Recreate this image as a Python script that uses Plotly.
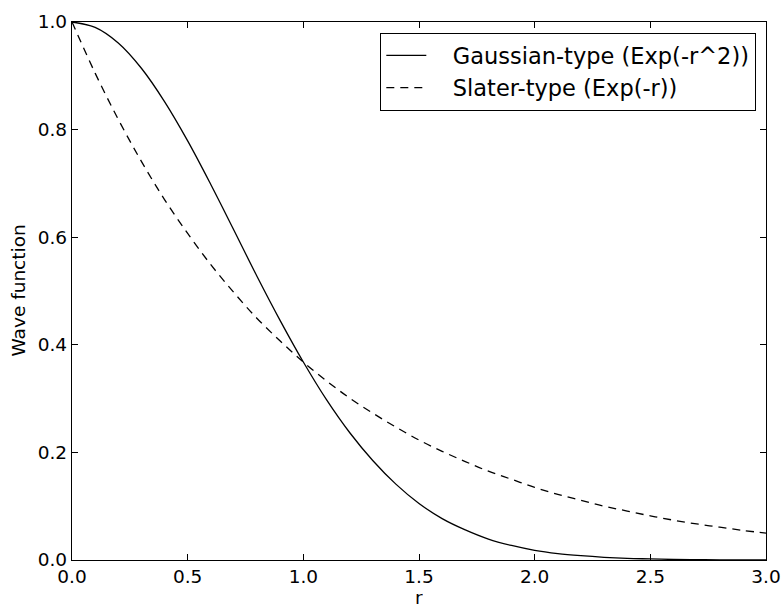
import plotly.graph_objects as go

r_values = [0.0, 0.1, 0.2, 0.3, 0.4, 0.5, 0.6, 0.7, 0.8, 0.9, 1.0,
            1.1, 1.2, 1.3, 1.4, 1.5, 1.6, 1.7, 1.8, 1.9, 2.0,
            2.1, 2.2, 2.3, 2.4, 2.5, 2.6, 2.7, 2.8, 2.9, 3.0]
gaussian = [1.0, 0.990, 0.961, 0.914, 0.852, 0.779, 0.698, 0.613, 0.527, 0.445, 0.368,
            0.298, 0.237, 0.185, 0.141, 0.105, 0.077, 0.056, 0.039, 0.027, 0.018,
            0.012, 0.008, 0.005, 0.003, 0.002, 0.001, 0.0007, 0.0004, 0.0002, 0.0001]
slater = [1.0, 0.905, 0.819, 0.741, 0.670, 0.607, 0.549, 0.497, 0.449, 0.407, 0.368,
          0.333, 0.301, 0.273, 0.247, 0.223, 0.202, 0.183, 0.165, 0.150, 0.135,
          0.122, 0.111, 0.100, 0.091, 0.082, 0.074, 0.067, 0.061, 0.055, 0.050]
x_ticks = [0.0, 0.5, 1.0, 1.5, 2.0, 2.5, 3.0]
y_ticks = [0.0, 0.2, 0.4, 0.6, 0.8, 1.0]
series_names = ["Gaussian-type (Exp(-r^2))", "Slater-type (Exp(-r))"]

FONT = "DejaVu Sans"
TICK_SIZE = 18.5
LEGEND_SIZE = 22.5
PAD = "\u00a0\u00a0\u00a0"

fig = go.Figure()
fig.add_trace(go.Scatter(x=r_values, y=gaussian, mode="lines",
                         name=PAD + series_names[0],
                         line=dict(color="black", width=1.3, shape="spline")))
fig.add_trace(go.Scatter(x=r_values, y=slater, mode="lines",
                         name=PAD + series_names[1],
                         line=dict(color="black", width=1.3, shape="spline", dash="8px,6px")))

axis_common = dict(showgrid=False, zeroline=False, showline=True, linecolor="black",
                   linewidth=1.3, mirror="ticks", ticks="inside", ticklen=6,
                   tickcolor="black", tickwidth=1,
                   tickfont=dict(family=FONT, size=TICK_SIZE, color="black"))

fig.update_xaxes(range=[0, 3], tickvals=x_ticks, ticktext=[f"{v:.1f}" for v in x_ticks],
                 automargin=False,
                 **axis_common)
fig.update_yaxes(range=[0, 1], tickvals=y_ticks, ticktext=[f"{v:.1f}" for v in y_ticks],
                 automargin=False, ticklabelstandoff=0,
                 **axis_common)

fig.update_layout(
    width=782, height=606,
    margin=dict(l=72, r=16, t=22, b=46),
    plot_bgcolor="white", paper_bgcolor="white",
    font=dict(family=FONT, size=TICK_SIZE, color="black"),
    legend=dict(x=0.9856, y=0.9796, xanchor="right", yanchor="top",
                bordercolor="black", borderwidth=1.3, bgcolor="white",
                font=dict(family=FONT, size=LEGEND_SIZE, color="black"),
                itemwidth=40, tracegroupgap=0),
    annotations=[
        dict(text="r", xref="paper", yref="paper", x=0.5, y=0, yshift=-46,
             xanchor="center", yanchor="bottom", height=16, borderpad=0,
             showarrow=False,
             font=dict(family=FONT, size=TICK_SIZE, color="black")),
        dict(text="Wave function", xref="paper", yref="paper", x=0, y=0.5, xshift=-67,
             xanchor="left", yanchor="middle", textangle=-90, showarrow=False,
             font=dict(family=FONT, size=TICK_SIZE, color="black")),
    ],
)

fig.write_html("out.html")
